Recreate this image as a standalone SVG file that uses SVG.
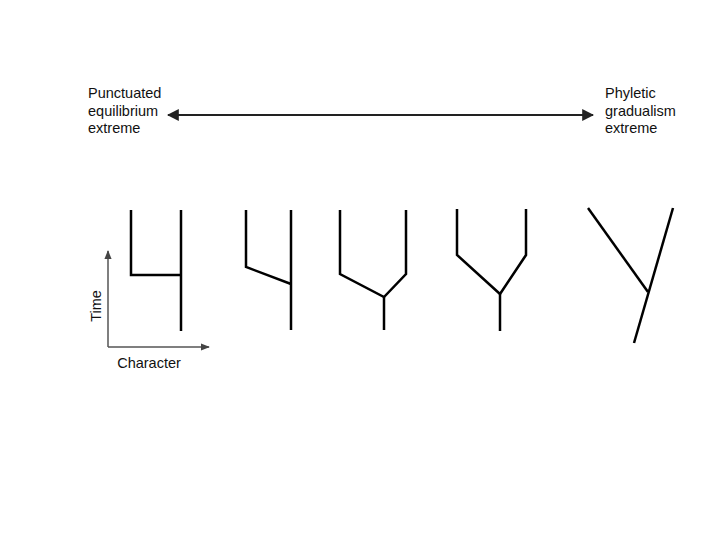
<svg xmlns="http://www.w3.org/2000/svg" width="720" height="540" viewBox="0 0 720 540">
<style>
.t{font-family:"Liberation Sans",Arial,sans-serif;font-size:14.5px;fill:#111}
.br{fill:none;stroke:#000;stroke-width:2.5;stroke-linejoin:miter}
.ax{fill:none;stroke:#555;stroke-width:1.5}
</style>
<defs>
<marker id="ah" viewBox="0 0 10 10" refX="9" refY="5" markerWidth="6" markerHeight="6" orient="auto-start-reverse"><path d="M0,0L10,5L0,10z" fill="#222"/></marker>
<marker id="ag" viewBox="0 0 10 10" refX="9" refY="5" markerWidth="6" markerHeight="6" orient="auto"><path d="M0,1L10,5L0,9z" fill="#444"/></marker>
</defs>
<rect width="720" height="540" fill="#fff"/>
<g id="label-left"><text class="t" x="88" y="98">Punctuated</text><text class="t" x="88" y="116">equilibrium</text><text class="t" x="88" y="133">extreme</text></g>
<g id="label-right"><text class="t" x="605" y="98">Phyletic</text><text class="t" x="605" y="116">gradualism</text><text class="t" x="605" y="133">extreme</text></g>
<g id="connectors">
<line x1="168" y1="115" x2="593" y2="115" stroke="#222" stroke-width="2" marker-start="url(#ah)" marker-end="url(#ah)"/>
<line class="ax" x1="108" y1="347" x2="108" y2="251" marker-end="url(#ag)"/>
<line class="ax" x1="108" y1="347" x2="209" y2="347" marker-end="url(#ag)"/>
</g>
<g id="axis-labels"><text class="t" x="0" y="0" transform="translate(101,306) rotate(-90)" text-anchor="middle">Time</text><text class="t" x="149" y="368" text-anchor="middle">Character</text></g>
<g id="tree1"><path class="br" d="M131,210V275H181"/><path class="br" d="M181,210V331"/></g>
<g id="tree2"><path class="br" d="M246,210V267L291,284"/><path class="br" d="M291,210V330"/></g>
<g id="tree3"><path class="br" d="M340,210V274L384,297L406,274V210"/><path class="br" d="M384,297V330"/></g>
<g id="tree4"><path class="br" d="M457,209V255L500,294L526,255V209"/><path class="br" d="M500,294V331"/></g>
<g id="tree5"><path class="br" d="M588,208L648,292"/><path class="br" d="M673,208L634,343"/></g>
</svg>
